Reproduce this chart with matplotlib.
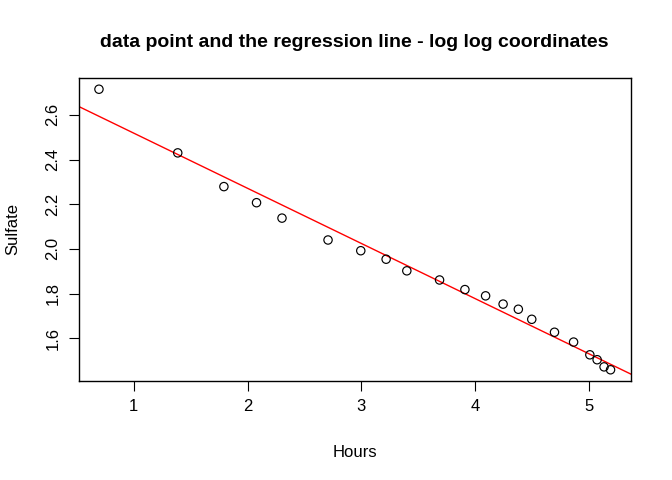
import numpy as np
import matplotlib
matplotlib.use("Agg")
import matplotlib.pyplot as plt

plt.rcParams['font.family'] = ['Liberation Sans', 'DejaVu Sans']

# log(hours) y log(sulfate)
log_hours = [0.693, 1.386, 1.792, 2.079, 2.303, 2.708, 2.996, 3.219, 3.401, 3.689,
             3.912, 4.094, 4.248, 4.382, 4.500, 4.700, 4.868, 5.011, 5.075, 5.136, 5.193]
log_sulfate = [2.715, 2.430, 2.279, 2.207, 2.138, 2.040, 1.992, 1.954, 1.902, 1.861,
               1.818, 1.790, 1.753, 1.730, 1.685, 1.627, 1.583, 1.526, 1.504, 1.472, 1.459]
x_ticks = [1, 2, 3, 4, 5]
y_ticks = [1.6, 1.8, 2.0, 2.2, 2.4, 2.6]

x = np.array(log_hours)
y = np.array(log_sulfate)
slope, intercept = np.polyfit(x, y, 1)

fig = plt.figure(figsize=(6.72, 4.8), dpi=100)
ax = fig.add_axes([78.5 / 672, 1 - 381 / 480, (631 - 78.5) / 672, (381 - 78) / 480])

ax.scatter(x, y, s=36, facecolors="none", edgecolors="black", linewidths=0.85, zorder=3)

# rango como en R (4% extra)
xr = x.max() - x.min()
yr = y.max() - y.min()
ax.set_xlim(x.min() - 0.04 * xr, x.max() + 0.04 * xr)
ax.set_ylim(y.min() - 0.04 * yr, y.max() + 0.04 * yr)
ax.axline((0, intercept), slope=slope, color="red", linewidth=1)

ax.set_xticks(x_ticks)
ax.set_yticks(y_ticks)
ax.set_xticklabels([str(t) for t in x_ticks], fontsize=12)
ax.set_yticklabels(["%.1f" % t for t in y_ticks], fontsize=12, rotation=90, va="center")
ax.tick_params(length=7, pad=6)
for s in ax.spines.values():
    s.set_linewidth(1)

ax.set_xlabel("Hours", fontsize=12, labelpad=22)
ax.set_ylabel("Sulfate", fontsize=12, labelpad=18)
ax.set_title("data point and the regression line - log log coordinates",
             fontsize=14, fontweight="bold", pad=22)

fig.savefig("out.png", dpi=100)
